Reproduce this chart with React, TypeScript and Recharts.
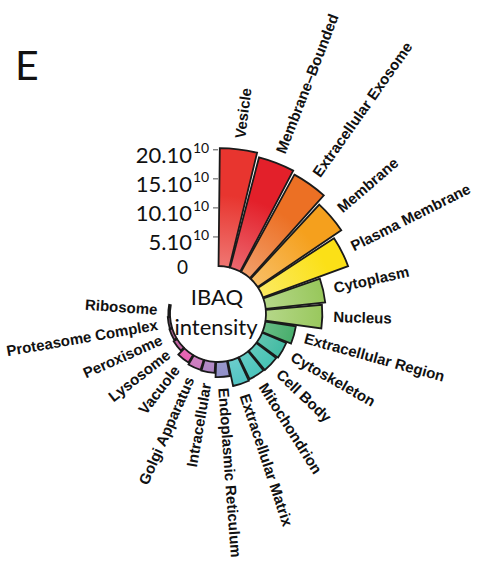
import React from 'react'
import { RadialBarChart, RadialBar, PolarAngleAxis, PolarRadiusAxis, Cell, LabelList } from 'recharts'

// GO cellular component terms, clockwise from 12 o'clock
const categories = [
  'Vesicle',
  'Membrane–Bounded',
  'Extracellular Exosome',
  'Membrane',
  'Plasma Membrane',
  'Cytoplasm',
  'Nucleus',
  'Extracellular Region',
  'Cytoskeleton',
  'Cell Body',
  'Mitochondrion',
  'Extracellular Matrix',
  'Endoplasmic Reticulum',
  'Intracellular',
  'Golgi Apparatus',
  'Vacuole',
  'Lysosome',
  'Peroxisome',
  'Proteasome Complex',
  'Ribosome',
]

// summed IBAQ intensity, in units of 10^10
const values = [20.3, 19.6, 19.1, 17.4, 15.6, 10.3, 9.7, 5.3, 4.5, 4.3, 4.2, 4.4, 2.6, 1.9, 1.8, 1.5, 0.7, 0.5, 0.4, 0.3]

const barColors = [
  '#e8352f', '#e3202a', '#ec7024', '#f5a01d', '#fbe017',
  '#92c452', '#92c452', '#1f9c4c', '#14a98c', '#17b2a0',
  '#1bb4aa', '#26b6b4', '#6b69b6', '#9156ad', '#b848a6',
  '#dd2390', '#a81f7c', '#7d1c60', '#4e1843', '#2a0f25',
]

const radiusTicks = [0, 5, 10, 15, 20]

const data = categories.map((name, i) => ({ name, value: values[i] }))

const CX = 218
const CY = 314
const RAD = Math.PI / 180
// each sector is drawn counter-clockwise from its band point, so the
// angle range is shifted back by one band to start the first bar at 12 o'clock
const SPAN = 281
const BAND = SPAN / categories.length

// mix a hex colour with white
const lighten = (hex: string, amt: number) => {
  const n = parseInt(hex.slice(1), 16)
  const ch = [(n >> 16) & 255, (n >> 8) & 255, n & 255].map(c => Math.round(c + (255 - c) * amt))
  return `rgb(${ch.join(',')})`
}

const RadiusTick = ({ x, y, payload }: any) => {
  const v = payload.value
  if (v === 0) {
    return (
      <text x={x - 30} y={y + 8} textAnchor="end" fontFamily="Lato, sans-serif" fontSize={19} fill="#111">
        0
      </text>
    )
  }
  return (
    <g>
      <line x1={x - 5} x2={x} y1={y} y2={y} stroke="#555" strokeWidth={1} />
      <text x={x - 26} y={y + 13} textAnchor="end" fontFamily="Lato, sans-serif" fontSize={22} fill="#111">
        {v}.10
      </text>
      <text x={x - 25} y={y + 3} fontFamily="Lato, sans-serif" fontSize={14} fill="#111">
        10
      </text>
    </g>
  )
}

const BarLabel = (props: any) => {
  const vb = props.viewBox ?? props
  const { cx, cy, outerRadius, startAngle, endAngle } = vb
  const mid = (startAngle + endAngle) / 2
  const r = outerRadius + 11
  const x = cx + r * Math.cos(mid * RAD)
  const y = cy - r * Math.sin(mid * RAD)
  const left = mid < -90
  const rot = left ? 180 - mid : -mid
  return (
    <text
      x={x}
      y={y}
      dy="0.35em"
      textAnchor={left ? 'end' : 'start'}
      transform={`rotate(${rot}, ${x}, ${y})`}
      fontFamily="'Liberation Sans', Arial, sans-serif"
      fontWeight="bold"
      fontSize={15}
      fill="#111"
    >
      {props.value ?? categories[props.index]}
    </text>
  )
}

export default function App() {
  return (
    <div style={{ position: 'absolute', left: 0, top: 0, width: 480, height: 563, background: '#fff' }}>
      <svg width={0} height={0} style={{ position: 'absolute' }}>
        <defs>
          {barColors.map((c, i) => (
            <radialGradient key={i} id={`g${i}`} gradientUnits="userSpaceOnUse" cx={CX} cy={CY} r={170}>
              <stop offset="0.28" stopColor={lighten(c, 0.32)} />
              <stop offset="0.7" stopColor={c} />
            </radialGradient>
          ))}
        </defs>
      </svg>
      <RadialBarChart
        width={480}
        height={563}
        data={data}
        layout="centric"
        cx={CX}
        cy={CY}
        innerRadius={48}
        outerRadius={170}
        startAngle={90 - BAND}
        endAngle={90 - BAND - SPAN}
        barCategoryGap="3%"
        margin={{ top: 0, right: 0, bottom: 0, left: 0 }}
      >
        <PolarAngleAxis type="category" dataKey="name" tick={false} axisLine={false} />
        <PolarRadiusAxis
          type="number"
          domain={[0, 21]}
          ticks={radiusTicks}
          angle={90}
          axisLine={false}
          tick={<RadiusTick />}
        />
        <RadialBar dataKey="value" isAnimationActive={false} stroke="#1a1a1a" strokeWidth={1.8}>
          {data.map((d, i) => (
            <Cell key={d.name} fill={`url(#g${i})`} />
          ))}
          <LabelList dataKey="name" content={<BarLabel />} />
        </RadialBar>
      </RadialBarChart>
      <svg width={480} height={563} style={{ position: 'absolute', left: 0, top: 0, pointerEvents: 'none' }}>
        <text x={15} y={80} fontFamily="Lato, sans-serif" fontSize={41} fill="#111">E</text>
        <text x={217} y={305} textAnchor="middle" fontFamily="Lato, sans-serif" fontSize={22} fill="#111">IBAQ</text>
        <text x={216} y={335} textAnchor="middle" fontFamily="Lato, sans-serif" fontSize={22} fill="#111">intensity</text>
      </svg>
    </div>
  )
}
